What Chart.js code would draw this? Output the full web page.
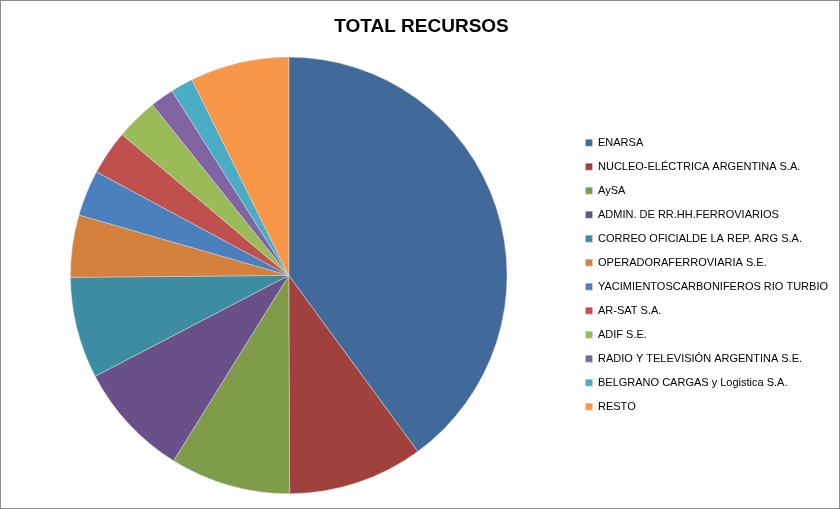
<!DOCTYPE html>
<html>
<head>
<meta charset="utf-8">
<script src="https://cdn.jsdelivr.net/npm/chart.js@4"></script>
<style>
  html, body { margin: 0; padding: 0; background: #fff; }
  #wrap { width: 838px; height: 507px; border: 1px solid #8c8c8c; }
</style>
</head>
<body>
<div id="wrap"><canvas id="chartRecursos" width="838" height="507"></canvas></div>
<script>
// Reparto de recursos por empresa (porcentaje)
const labels = [
  'ENARSA',
  'NUCLEO-ELÉCTRICA ARGENTINA S.A.',
  'AySA',
  'ADMIN. DE RR.HH.FERROVIARIOS',
  'CORREO OFICIALDE LA REP. ARG S.A.',
  'OPERADORAFERROVIARIA S.E.',
  'YACIMIENTOSCARBONIFEROS RIO TURBIO',
  'AR-SAT S.A.',
  'ADIF S.E.',
  'RADIO Y TELEVISIÓN ARGENTINA S.E.',
  'BELGRANO CARGAS y Logistica S.A.',
  'RESTO'
];
const values = [39.9, 10.0, 8.9, 8.5, 7.5, 4.6, 3.4, 3.3, 3.1, 1.75, 1.67, 7.3];
const colors = ['#416a9b', '#a0413e', '#809c4b', '#6a5088', '#3d8ca2', '#d6803e',
                '#4b80bf', '#c0504d', '#9bbb59', '#8064a2', '#4bacc6', '#f79646'];

(() => {
  const ctx = document.getElementById('chartRecursos').getContext('2d');
  new Chart(ctx, {
    type: 'pie',
    data: {
      labels: labels,
      datasets: [{ data: values, backgroundColor: colors, borderColor: 'rgba(220,220,220,0.8)', borderWidth: 0.6 }]
    },
    options: {
      responsive: false,
      animation: false,
      layout: { padding: { top: 0, bottom: 14, left: 4, right: 1 } },
      plugins: {
        title: {
          display: true,
          text: 'TOTAL RECURSOS',
          color: '#000',
          font: { family: 'Liberation Sans', size: 19, weight: 'bold' },
          padding: { top: 14, bottom: 19 }
        },
        legend: {
          position: 'right',
          title: { display: true, text: ' ', padding: 20 },
          labels: {
            color: '#000',
            boxWidth: 7,
            boxHeight: 7,
            padding: 13,
            font: { family: 'Liberation Sans', size: 11 }
          }
        },
        tooltip: { enabled: false }
      }
    }
  });
})();
</script>
</body>
</html>
